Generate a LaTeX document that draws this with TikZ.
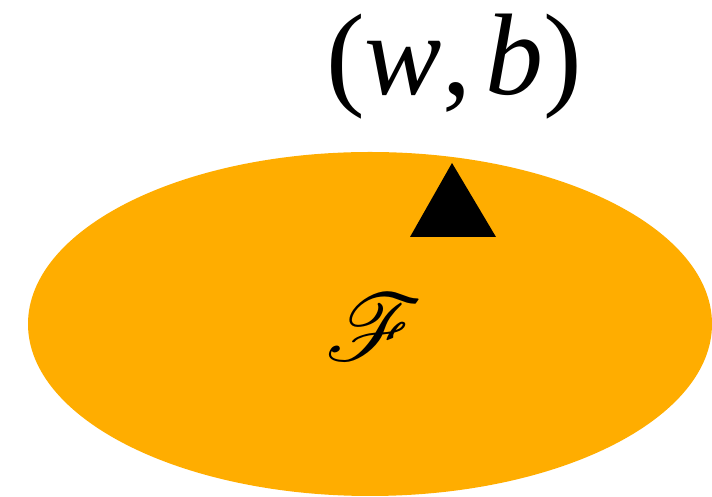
\documentclass[tikz,border=0pt]{standalone}
\usepackage{mathrsfs}
\usepackage{fontspec}
\newfontfamily\tms{Liberation Serif}
\definecolor{setorange}{RGB}{255,173,0}
\begin{document}
\begin{tikzpicture}[x=1pt,y=1pt,
  lbl/.style={inner sep=0pt, text=black}]
\useasboundingbox (0,0) rectangle (712,497);
\clip (0,0) rectangle (712,497);
\fill[setorange] (370,173) ellipse [x radius=342, y radius=172];
\fill[black] (452,334) -- (410,260) -- (496,260) -- cycle;
\node[lbl] (F) at (374,170) {\scalebox{3.8}{\fontsize{24.88}{28}\selectfont$\mathscr{F}$}};
\node[lbl] (wb) at (454,430) {\tms\fontsize{116}{126}\selectfont (\textit{w},\hspace{0.12em}\textit{b})};
\end{tikzpicture}
\end{document}
